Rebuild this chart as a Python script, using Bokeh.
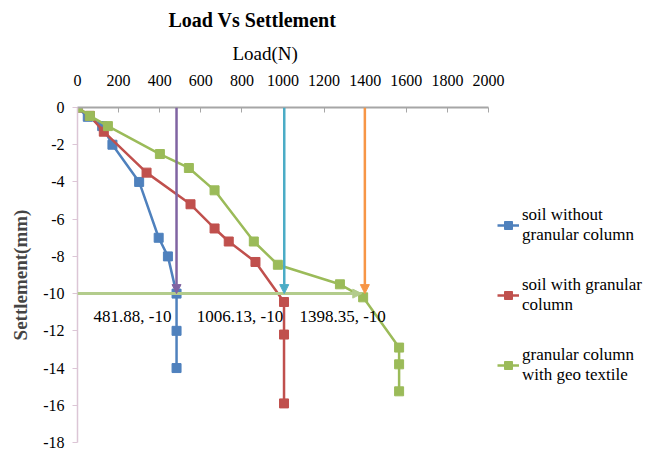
from bokeh.plotting import figure
from bokeh.models import (Range1d, Arrow, NormalHead, Legend, LegendItem,
                          FixedTicker, ColumnDataSource, Title)
from bokeh.core.properties import value
from bokeh.embed import file_html
from bokeh.resources import INLINE

# ---- data ----
load_without = [0, 50, 120, 170, 300, 395, 440, 482, 482, 482]
settle_without = [0, -0.5, -1.0, -2.0, -4.0, -7.0, -8.0, -10.0, -12.0, -14.0]

load_with = [0, 60, 128, 336, 550, 667, 736, 866, 1005, 1005, 1005]
settle_with = [0, -0.45, -1.3, -3.5, -5.2, -6.5, -7.2, -8.3, -10.45, -12.2, -15.9]

load_geo = [0, 60, 148, 401, 542, 667, 858, 975, 1277, 1390, 1565, 1565, 1565]
settle_geo = [0, -0.45, -1.0, -2.5, -3.25, -4.45, -7.2, -8.45, -9.5, -10.2, -12.9, -13.8, -15.25]

series_names = ["soil without\ngranular column", "soil with granular\ncolumn",
                "granular column\nwith geo textile"]
series_colors = ["#4f81bd", "#c0504d", "#9bbb59"]

ultimate_load = [481.88, 1006.13, 1398.35]
ultimate_settle = [-10, -10, -10]
ultimate_text = ["481.88, -10", "1006.13, -10", "1398.35, -10"]
arrow_colors = ["#8064a2", "#4bacc6", "#f79646"]
x_ticks = [0, 200, 400, 600, 800, 1000, 1200, 1400, 1600, 1800, 2000]
y_ticks = [0, -2, -4, -6, -8, -10, -12, -14, -16, -18]
x_max = 2000

SERIF = "Liberation Serif"

W, H = 656, 452
LEFT, TOP, BOTTOM = 77, 107, 10
AXIS_RIGHT_PX = 488  # pixel where x_max sits
# extend the x range so that the frame also covers the legend area
x_end = x_max * (W - LEFT) / (AXIS_RIGHT_PX - LEFT)

p = figure(width=W, height=H, output_backend="svg", toolbar_location=None,
           x_range=Range1d(0, x_end), y_range=Range1d(y_ticks[-1], 0),
           x_axis_location="above",
           min_border_left=LEFT, min_border_right=0, min_border_top=TOP,
           min_border_bottom=BOTTOM)
p.outline_line_color = None
p.xgrid.visible = False
p.ygrid.visible = False
p.background_fill_color = "white"

# axes
xa = p.xaxis[0]
xa.ticker = FixedTicker(ticks=x_ticks)
xa.bounds = (0, x_max)
xa.axis_line_color = "#a6a6a6"
xa.axis_line_width = 2
xa.major_tick_line_color = "#a6a6a6"
xa.major_tick_in = 5
xa.major_tick_out = 0
xa.minor_tick_line_color = None
xa.major_label_standoff = 22
xa.major_label_text_font = SERIF
xa.major_label_text_font_size = "16px"
xa.major_label_text_color = "black"
xa.axis_label = None

# x-axis title, positioned over the 0..2000 span
p.add_layout(Title(text="Load(N)", align="left", offset=155, standoff=15,
                   text_font=SERIF, text_font_style="normal",
                   text_font_size="19px", text_color="black"), "above")

# chart title
p.title.text = "Load Vs Settlement"
p.title.align = "left"
p.title.offset = 91
p.title.text_font = SERIF
p.title.text_font_style = "bold"
p.title.text_font_size = "20px"
p.title.text_color = "black"
p.title.standoff = 6

ya = p.yaxis[0]
ya.ticker = FixedTicker(ticks=y_ticks)
ya.major_label_overrides = {t: str(t) for t in y_ticks}
ya.axis_line_color = "#dcc6d6"
ya.axis_line_width = 1.5
ya.major_tick_line_color = "#dcc6d6"
ya.major_tick_in = 0
ya.major_tick_out = 5
ya.minor_tick_line_color = None
ya.major_label_standoff = 8
ya.major_label_text_font = SERIF
ya.major_label_text_font_size = "16px"
ya.major_label_text_color = "black"
ya.axis_label = "Settlement(mm)"
ya.axis_label_text_font = SERIF
ya.axis_label_text_font_style = "bold"
ya.axis_label_text_font_size = "19px"
ya.axis_label_standoff = 9

# guide arrows
hc = "#b3cc8c"
p.add_layout(Arrow(end=NormalHead(size=9, fill_color=hc, line_color=hc),
                   x_start=0, y_start=ultimate_settle[2], x_end=ultimate_load[2] - 15,
                   y_end=ultimate_settle[2], line_color=hc, line_width=3))
for xv, yv, c in zip(ultimate_load, ultimate_settle, arrow_colors):
    p.add_layout(Arrow(end=NormalHead(size=9, fill_color=c, line_color=c),
                       x_start=xv, y_start=0, x_end=xv, y_end=yv,
                       line_color=c, line_width=2.5))

# series
items = []
for xs, ys, c, name in zip([load_without, load_with, load_geo],
                           [settle_without, settle_with, settle_geo],
                           series_colors, series_names):
    src = ColumnDataSource(dict(x=xs, y=ys))
    r1 = p.line("x", "y", source=src, line_color=c, line_width=2.5)
    r2 = p.scatter("x", "y", source=src, marker="square", size=9,
                   fill_color=c, line_color=c)
    items.append(LegendItem(label=name, renderers=[r1, r2]))

# data labels
lab_src = ColumnDataSource(dict(x=ultimate_load, y=ultimate_settle, t=ultimate_text,
                                dx=[-5, -1, 21]))
p.text("x", "y", text="t", source=lab_src, x_offset="dx", y_offset=23,
       text_align="right", text_baseline="middle", text_font=value(SERIF),
       text_font_size="17px", text_color="black")

legend = Legend(items=items, location=(420, 57), orientation="vertical")
legend.label_text_font = SERIF
legend.label_text_font_size = "17px"
legend.label_text_color = "black"
legend.glyph_width = 22
legend.label_standoff = 3
legend.spacing = 30
legend.padding = 0
legend.margin = 0
legend.border_line_color = None
legend.background_fill_alpha = 0
p.add_layout(legend, "center")

open("out.html", "w").write(file_html(p, INLINE))
